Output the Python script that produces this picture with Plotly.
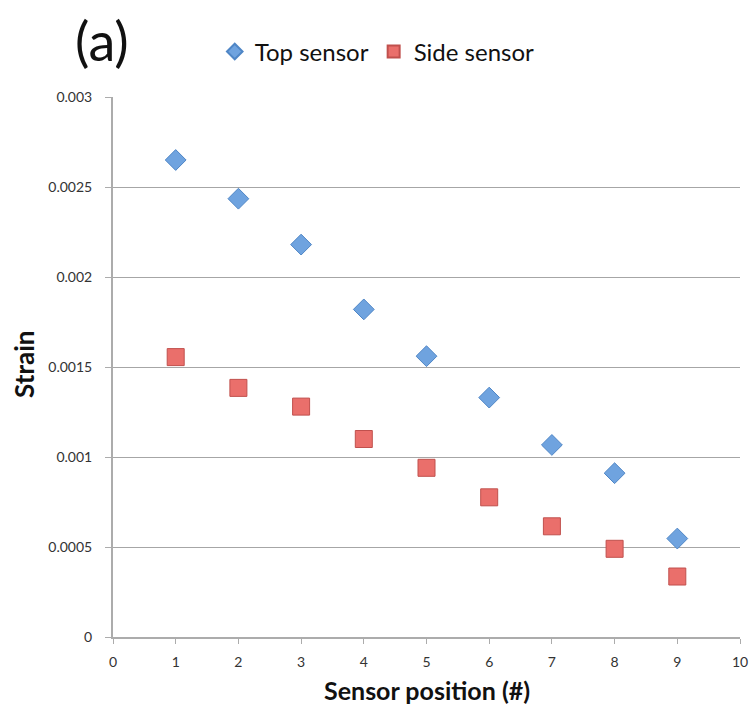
import plotly.graph_objects as go

positions = [1, 2, 3, 4, 5, 6, 7, 8, 9]
top_sensor = [0.00265, 0.002435, 0.00218, 0.00182, 0.00156, 0.00133, 0.001067, 0.00091, 0.000547]
side_sensor = [0.001555, 0.001384, 0.00128, 0.0011, 0.00094, 0.000776, 0.000615, 0.00049, 0.000336]
x_ticks = [0, 1, 2, 3, 4, 5, 6, 7, 8, 9, 10]
y_ticks = [0, 0.0005, 0.001, 0.0015, 0.002, 0.0025, 0.003]
y_labels = ["0", "0.0005", "0.001", "0.0015", "0.002", "0.0025", "0.003"]

FONT = "Lato, 'Open Sans', sans-serif"

fig = go.Figure()
fig.add_trace(go.Scatter(
    x=positions, y=top_sensor, mode="markers", name="Top sensor",
    marker=dict(symbol="diamond", size=16, color="#6fa3df",
                line=dict(color="#4f86c6", width=1)),
))
fig.add_trace(go.Scatter(
    x=positions, y=side_sensor, mode="markers", name="Side sensor",
    marker=dict(symbol="square", size=17, color="#ea6f6b",
                line=dict(color="#c0504d", width=1)),
))

fig.update_layout(
    width=750, height=711,
    paper_bgcolor="white", plot_bgcolor="white",
    margin=dict(l=113, r=10, t=97, b=74),
    font=dict(family=FONT, color="#222"),
    showlegend=True,
    legend=dict(orientation="h", xref="container", yref="container",
                x=0.503, xanchor="center", y=0.927, yanchor="middle",
                font=dict(size=24, family=FONT, color="#111"),
                itemsizing="constant", itemwidth=30, bgcolor="rgba(0,0,0,0)"),
    annotations=[
        dict(text="(a)", x=-0.0175, y=1.104, xref="paper", yref="paper",
             xanchor="center", yanchor="middle", showarrow=False,
             font=dict(size=54, family=FONT, color="#111")),
        dict(text="<b>Sensor position (#)</b>", x=0.5, y=-0.098, xref="paper", yref="paper",
             xanchor="center", yanchor="middle", showarrow=False,
             font=dict(size=25, family=FONT, color="#111")),
        dict(text="<b>Strain</b>", x=-0.142, y=0.5056, xref="paper", yref="paper",
             xanchor="center", yanchor="middle", showarrow=False, textangle=-90,
             font=dict(size=26, family=FONT, color="#111")),
    ],
)

fig.update_xaxes(
    range=[0, 10], tickvals=x_ticks, ticktext=[str(v) for v in x_ticks],
    showgrid=False, showline=True, linecolor="#acacac", linewidth=2,
    ticks="outside", ticklen=5, tickcolor="#acacac", ticklabelstandoff=6,
    tickfont=dict(size=14, color="#333"), zeroline=False, automargin=False,
)
fig.update_yaxes(
    range=[0, 0.003], tickvals=y_ticks, ticktext=y_labels,
    showgrid=True, gridcolor="#a6a6a6", gridwidth=1,
    showline=True, linecolor="#acacac", linewidth=2,
    ticks="outside", ticklen=6, tickcolor="#acacac", ticklabelstandoff=10,
    tickfont=dict(size=14, color="#333"), zeroline=False, automargin=False,
)

fig.write_html("out.html", config={"displayModeBar": False},
               post_script="document.body.style.margin='0';")
